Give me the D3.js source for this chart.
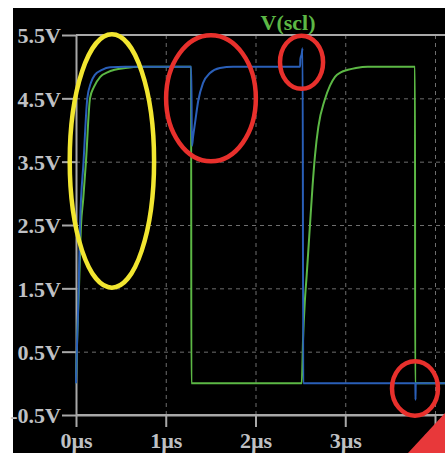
<!DOCTYPE html>
<html>
<head>
<meta charset="utf-8">
<script src="https://cdn.jsdelivr.net/npm/d3@7"></script>
<style>
  body { margin: 0; background: #fff; }
  svg { display: block; }
  .tick text { font-family: "Liberation Serif", "Times New Roman", serif; font-weight: bold; font-size: 22px; fill: #bfc0c4; }
</style>
</head>
<body>
<svg width="445" height="453"></svg>
<script>
// tick values + labels
const yTicks = [-0.5, 0.5, 1.5, 2.5, 3.5, 4.5, 5.5];
const yTickLabels = ["-0.5V", "0.5V", "1.5V", "2.5V", "3.5V", "4.5V", "5.5V"];
const xTicks = [0, 1, 2, 3, 4];
const xTickLabels = ["0µs", "1µs", "2µs", "3µs", "4µs"];

// V(scl) - green trace (time in µs, volts)
const sclT = [0, 0.015, 0.033, 0.056, 0.08, 0.111, 0.156, 0.2, 0.27, 0.35, 0.43, 0.55, 0.71, 1.283, 1.285,
              2.515, 2.53, 2.55, 2.57, 2.607, 2.635, 2.663, 2.70, 2.77, 2.83, 2.886, 2.95, 3.03, 3.12, 3.25, 3.777, 3.779, 4.12];
const sclV = [0, 0.8, 1.5, 2.5, 2.9, 3.5, 4.5, 4.68, 4.84, 4.91, 4.95, 4.98, 5.0, 5.0, 0,
              0, 0.7, 1.3, 1.7, 2.5, 3.1, 3.6, 4.05, 4.47, 4.7, 4.84, 4.91, 4.95, 4.98, 5.0, 5.0, 0, 0];

// second (blue) trace
const sdaT = [0, 0.011, 0.03, 0.045, 0.084, 0.126, 0.167, 0.21, 0.29, 0.38, 0.55, 1.284, 1.292, 1.305, 1.326, 1.363, 1.415, 1.493, 1.604, 1.75,
              2.497, 2.500, 2.515, 2.525, 2.532, 3.781, 3.783, 3.785, 4.12];
const sdaV = [0, 0.6, 1.5, 2.5, 3.5, 4.5, 4.75, 4.87, 4.95, 4.99, 5.0, 5.0, 3.75, 3.9, 4.11, 4.47, 4.74, 4.9, 4.98, 5.0,
              5.0, 5.12, 5.2, 5.29, 0, 0, -0.26, 0, 0];

// annotation ellipses: [t center, V center, t radius, V radius]
const marks = [
  {c: "#f2e630", t: 0.40, v: 3.51, rt: 0.47, rv: 2.0},
  {c: "#e8302c", t: 1.504, v: 4.5, rt: 0.50, rv: 0.995},
  {c: "#e8302c", t: 2.513, v: 5.07, rt: 0.24, rv: 0.42},
  {c: "#e8302c", t: 3.777, v: -0.08, rt: 0.256, rv: 0.43}
];

const W = 445, H = 453;
const svg = d3.select("svg");

const x = d3.scaleLinear().domain([0, 4]).range([76, 435]);
const y = d3.scaleLinear().domain([-0.5, 5.5]).range([415, 35]);

// black plot background
svg.append("rect").attr("x", 13).attr("y", 8).attr("width", W - 13).attr("height", H - 8).attr("fill", "#000");

// dashed grid
const grid = svg.append("g").attr("stroke", "#6e6e6e").attr("stroke-width", 1).attr("stroke-dasharray", "4,4");
grid.selectAll(".gy").data(yTicks.slice(1, -1)).enter().append("line")
  .attr("x1", x(0)).attr("x2", W).attr("y1", d => y(d) + 0.5).attr("y2", d => y(d) + 0.5);
grid.selectAll(".gx").data(xTicks.slice(1)).enter().append("line")
  .attr("y1", y(5.5)).attr("y2", y(-0.5)).attr("x1", d => x(d) + 0.5).attr("x2", d => x(d) + 0.5);

// axes
const axCol = "#a8a8a8";
const yAxis = svg.append("g").attr("transform", `translate(${x(0)},0)`)
  .call(d3.axisLeft(y).tickValues(yTicks).tickFormat((d, i) => yTickLabels[i]).tickSize(14).tickSizeOuter(0).tickPadding(1));
const xAxis = svg.append("g").attr("transform", `translate(0,${y(-0.5)})`)
  .call(d3.axisBottom(x).tickValues(xTicks).tickFormat((d, i) => xTickLabels[i]).tickSize(12).tickSizeOuter(0));
xAxis.selectAll("text").attr("y", 33).attr("dy", 0);
yAxis.selectAll("text").attr("dy", "0.35em");
[yAxis, xAxis].forEach(a => {
  a.selectAll("line").attr("stroke", axCol).attr("stroke-width", 2);
  a.select(".domain").attr("stroke", axCol).attr("stroke-width", 2);
});
// frame top + bottom running off to the right
svg.append("line").attr("x1", x(0)).attr("x2", W).attr("y1", y(5.5)).attr("y2", y(5.5)).attr("stroke", axCol).attr("stroke-width", 2);
svg.append("line").attr("x1", x(0)).attr("x2", W).attr("y1", y(-0.5)).attr("y2", y(-0.5)).attr("stroke", axCol).attr("stroke-width", 2);

// traces
const line = d3.line().x(d => x(d[0])).y(d => y(d[1])).curve(d3.curveMonotoneX);
svg.append("path").datum(d3.zip(sclT, sclV)).attr("d", line)
  .attr("fill", "none").attr("stroke", "#5cb845").attr("stroke-width", 2);
svg.append("path").datum(d3.zip(sdaT, sdaV)).attr("d", line)
  .attr("fill", "none").attr("stroke", "#2a5fb8").attr("stroke-width", 2);

// legend
svg.append("text").attr("x", 288).attr("y", 30).attr("text-anchor", "middle")
  .style("font-family", '"Liberation Serif", serif').style("font-weight", "bold").style("font-size", "22px")
  .attr("fill", "#5cb845").text("V(scl)");

// hand-drawn highlight ellipses
svg.selectAll(".mk").data(marks).enter().append("ellipse")
  .attr("cx", d => x(d.t)).attr("cy", d => y(d.v))
  .attr("rx", d => x(d.rt) - x(0)).attr("ry", d => y(0) - y(d.rv))
  .attr("fill", "none").attr("stroke", d => d.c).attr("stroke-width", 4.5);

// red corner triangle
svg.append("path").attr("d", `M${W - 37},${H} L${W},${H - 40} L${W},${H} Z`).attr("fill", "#e8383a");
</script>
</body>
</html>
